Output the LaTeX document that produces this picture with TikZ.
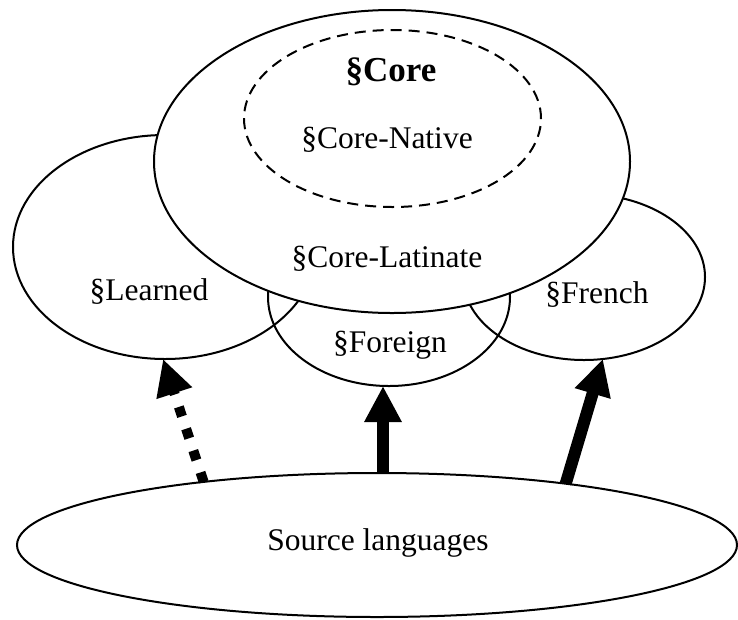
\documentclass[tikz,border=0pt]{standalone}
\usepackage{fontspec}
\setmainfont{Liberation Serif}
\usetikzlibrary{positioning,calc,shapes.geometric,arrows.meta}

\begin{document}
\begin{tikzpicture}[
        x=1pt, y=-1pt,
        every node/.style = {inner sep=0pt, outer sep=0pt},
        setline/.style = {ellipse, draw, line width=2pt},
        setlabel/.style = {anchor=base, font=\fontsize{31.5}{36}\selectfont},
        flowline/.style = {line width=12pt, -{Triangle[width=35pt,length=36pt]}},
        flowdotted/.style = {line width=10pt, dash pattern=on 10pt off 13pt, -{Triangle[width=35pt,length=36pt]}},
        ]
        \useasboundingbox (0,0) rectangle (738,619);
        % the sets under the core
        \node[setline, minimum width=304pt, minimum height=224pt] (set-learned) at (165,247) {};
        \node[setline, minimum width=242pt, minimum height=166pt] (set-french) at (584,277) {};
        \node[setline, minimum width=242pt, minimum height=178pt] (set-foreign) at (389,297) {};
        % the core on top
        \node[setline, fill=white, minimum width=476pt, minimum height=303pt] (set-core) at (392,161.5) {};
        \node[setline, dash pattern=on 11pt off 7pt, minimum width=297pt, minimum height=177pt] (set-native) at (392.5,118.5) {};
        \node[setline, minimum width=720pt, minimum height=144pt] (set-source) at (377,545) {};

        \node[setlabel, font=\fontsize{35}{40}\selectfont\bfseries] (text-core) at (391,81) {§Core};
        \node[setlabel] (text-native) at (387,148) {§Core-Native};
        \node[setlabel] (text-latinate) at (387,267) {§Core-Latinate};
        \node[setlabel] (text-learned) at (149,300) {§Learned};
        \node[setlabel] (text-french) at (597,303) {§French};
        \node[setlabel] (text-foreign) at (390,352) {§Foreign};
        \node[setlabel] (text-source) at (378,550) {Source languages};

        \coordinate (foreign-tip) at ([xshift=-6pt]set-foreign.south);
        \draw[flowdotted] (set-source.160) -- (set-learned.-91);
        \draw[flowline] (foreign-tip |- set-source.north) -- (foreign-tip);
        \draw[flowline] (set-source.18.5) -- (set-french.-77);
\end{tikzpicture}
\end{document}
